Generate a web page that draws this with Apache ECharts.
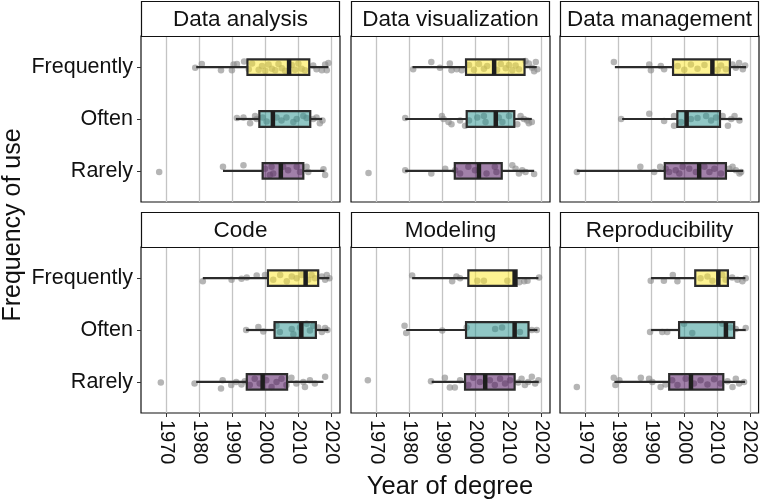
<!DOCTYPE html>
<html>
<head>
<meta charset="utf-8">
<script src="https://cdn.jsdelivr.net/npm/echarts@6/dist/echarts.min.js"></script>
<style>html,body{margin:0;padding:0;background:#fff;}#c{width:760px;height:500px;}</style>
</head>
<body>
<div id="c"></div>
<script>
const categories = ['Frequently', 'Often', 'Rarely'];
const panelTitles = ['Data analysis', 'Data visualization', 'Data management', 'Code', 'Modeling', 'Reproducibility'];
const xTicks = [1970, 1980, 1990, 2000, 2010, 2020];

// box stats per category: [whiskerLow, Q1, median, Q3, whiskerHigh]
const analysisBoxes = [[1979.1,1994.6,2007.2,2013.3,2019.1],[1991.1,1998.2,2002.3,2013.6,2017.2],[1987.2,1999.2,2004.7,2011.5,2017.9]];
const visualizationBoxes = [[1981.0,1997.2,2005.7,2014.9,2018.6],[1978.8,1997.4,2006.2,2011.8,2017.1],[1978.8,1993.8,2001.1,2008.0,2017.8]];
const managementBoxes = [[1979.0,1996.6,2008.5,2013.8,2018.7],[1981.2,1997.9,2000.7,2010.8,2017.5],[1967.5,1994.1,2004.5,2012.6,2017.8]];
const codeBoxes = [[1981.1,2000.8,2012.2,2016.0,2019.4],[1994.2,2002.8,2010.9,2015.3,2019.1],[1979.1,1994.4,1999.2,2006.6,2017.6]];
const modelingBoxes = [[1980.9,1997.9,2011.9,2012.5,2019.1],[1979.1,1997.2,2011.9,2016.1,2018.8],[1986.8,1996.9,2003.0,2011.9,2019.2]];
const reproBoxes = [[1990.0,2003.4,2010.4,2013.3,2018.6],[1990.0,1998.5,2012.7,2015.2,2018.7],[1978.9,1995.5,2002.1,2011.9,2018.5]];

// jittered points per category: [year, vertical jitter]
const analysisPoints = [
  [[1978.8,0.01],[1980.8,-0.06],[1986.6,0.06],[1989.9,0.06],[1990.4,-0.05],[1991.4,-0.06],[1993.6,-0.11],[1995,0.04],[1996,-0.07],[1998,0.05],[1999,-0.02],[2000,0.07],[2001,-0.05],[2002,0.03],[2003,0.06],[2004,-0.06],[2005,0.02],[2006,0.07],[2008,-0.04],[2009,0.05],[2010,-0.07],[2011,0.03],[2012,0.06],[2014.5,-0.03],[2015.5,0.04],[2017.1,0.06],[2018.1,-0.05],[2018.6,0.06],[2019.1,-0.08]],
  [[1991.4,-0.02],[1993.4,-0.03],[1995.4,0.08],[1996.9,-0.06],[1997.4,0],[1999.2,-0.03],[2000.4,0.05],[2003.4,-0.03],[2004.9,0.03],[2006.4,-0.03],[2008.5,0.06],[2009.5,0],[2011.5,-0.06],[2012.5,-0.02],[2014.5,0],[2015.5,-0.03],[2016.5,0.08],[2017.3,0.03]],
  [[1967.9,0.02],[1987.2,-0.08],[1993.4,-0.11],[1999.9,-0.04],[2001.9,-0.08],[2002.4,0.05],[2001.4,0.08],[2005.4,-0.08],[2006.9,-0.01],[2009.5,-0.08],[2010.5,0.02],[2012.5,-0.08],[2013.0,0.02],[2017.6,-0.03],[2018.1,0.08]]
];
const visualizationPoints = [
  [[1981.2,0.04],[1986.7,-0.10],[1989.3,0.01],[1992.3,-0.07],[1992.8,0.06],[1994.4,0.04],[1995.9,0.06],[1998.1,-0.04],[1999.6,0.05],[2001.1,-0.06],[2002.6,0.03],[2003.6,-0.02],[2006.6,0.05],[2007.7,-0.06],[2009.2,0.02],[2010.2,-0.04],[2011.2,0.06],[2012.2,-0.03],[2013.2,0.04],[2015.2,-0.12],[2016.2,-0.07],[2017.2,0.01],[2017.8,0.08],[2018.3,-0.10],[2018.8,0.04]],
  [[1978.8,-0.02],[1989.9,-0.06],[1990.4,0],[1991.9,0.06],[1992.8,0.10],[1995.4,0.03],[1996.9,0.13],[1998.1,0.03],[2000.6,-0.03],[2002.6,-0.06],[2003.1,0.06],[2007.1,-0.03],[2008.2,0.06],[2010.2,-0.06],[2012.7,0.10],[2013.7,-0.06],[2014.7,0],[2015.7,0.03],[2016.2,0.08],[2017.1,0.06]],
  [[1967.7,0.04],[1978.8,-0.01],[1986.7,0.05],[1990.9,-0.04],[1993.9,-0.01],[1995.4,0.05],[1997.9,-0.08],[1999.9,-0.01],[2003.4,0.05],[2005.9,-0.08],[2006.4,0.02],[2011.2,-0.11],[2012.2,-0.04],[2013.2,0.05],[2014.2,-0.01],[2015.2,0.02],[2017.8,0.06]]
];
const managementPoints = [
  [[1978.7,-0.10],[1989.4,-0.05],[1989.9,0.06],[1992.9,-0.02],[1993.9,0.04],[1998.0,-0.02],[2000.0,0.05],[2002.0,-0.05],[2004.0,0.03],[2006.1,-0.04],[2010.1,0.05],[2011.1,-0.03],[2012.6,0.04],[2014.6,-0.05],[2015.6,0.01],[2016.6,-0.08],[2017.7,0.04],[2018.4,-0.03]],
  [[1980.9,0],[1989.4,-0.10],[1993.9,0.04],[1996.9,-0.06],[1996.9,0.13],[1999.0,0.06],[2002.0,0],[2004.0,-0.02],[2006.6,-0.06],[2008.1,0.03],[2009.6,-0.03],[2011.6,-0.06],[2013.2,0.13],[2014.2,0],[2015.2,-0.06],[2016.7,0.03]],
  [[1967.5,0.02],[1986.7,-0.08],[1990.9,0.02],[1992.7,-0.08],[1994.4,-0.04],[1995.4,0.02],[1997.4,-0.01],[1998.5,0.05],[1999.5,-0.08],[2001.5,-0.04],[2003.5,0.02],[2006.1,-0.08],[2007.6,0.02],[2009.1,-0.04],[2011.1,0.05],[2013.6,-0.04],[2014.6,-0.08],[2015.6,-0.01],[2016.7,0.05],[2017.2,0.02]]
];
const codePoints = [
  [[1981.1,0.06],[1989.8,0.03],[1992.8,0.01],[1994.4,-0.01],[1997.4,-0.05],[1999.9,-0.06],[2002.4,0.03],[2004.5,-0.06],[2006.5,0.06],[2008.0,-0.03],[2009.5,0],[2011.0,-0.06],[2013.0,0.03],[2014.0,-0.06],[2015.0,0],[2017.1,-0.03],[2018.1,0.03],[2018.6,-0.06],[2019.4,0]],
  [[1994.2,0],[1997.9,-0.06],[1999.4,0.03],[2003.4,-0.08],[2004.4,0.04],[2008.0,-0.02],[2008.5,0.08],[2010.5,-0.05],[2012.5,-0.12],[2013.5,0.01],[2014.5,-0.08],[2016.0,-0.05],[2017.1,0.04],[2018.1,-0.04],[2018.8,0]],
  [[1968.4,0.01],[1978.6,0.03],[1986.6,0.13],[1987.1,-0.03],[1989.7,0.06],[1991.2,0],[1992.8,0.05],[1993.8,-0.01],[1995.3,0.06],[1996.8,-0.06],[1998.3,0.03],[2000.3,-0.03],[2001.9,0.10],[2003.4,0],[2004.9,-0.06],[2006.4,0.06],[2007.9,-0.08],[2009.4,0.03],[2011.5,0],[2012.0,0.10],[2013.5,-0.03],[2015.0,0.03],[2018.1,-0.10]]
];
const modelingPoints = [
  [[1980.9,-0.05],[1993.0,0.06],[1994.3,-0.03],[1995.4,0],[2000.6,0.05],[2002.6,0.05],[2009.7,0.05],[2013.3,0.08],[2014.8,0.06],[2015.8,0.05],[2019.3,-0.01]],
  [[1978.6,-0.08],[1979.1,0.06],[1990.0,0.01],[1997.4,-0.05],[2006.0,-0.02],[2008.1,-0.05],[2013.5,0.04],[2017.1,0],[2018.6,0]],
  [[1967.5,-0.03],[1986.6,-0.01],[1990.8,-0.08],[1992.3,0.11],[1993.8,0.11],[1995.4,-0.03],[1997.9,0.06],[1999.4,-0.08],[2001.4,0],[2004.4,-0.03],[2005.9,0.06],[2007.5,-0.06],[2009.0,0.03],[2010.5,-0.03],[2013.0,0.01],[2014.0,-0.06],[2015.0,0.06],[2016.0,0],[2017.1,-0.10],[2018.1,0.03],[2019.1,-0.03]]
];
const reproPoints = [
  [[1989.9,0.05],[1993.9,0.05],[1996.6,-0.06],[1998.0,0.06],[2005.0,0],[2007.1,-0.03],[2008.6,0.05],[2011.6,-0.06],[2012.6,0.03],[2014.6,-0.01],[2016.2,0.03],[2017.7,0.06],[2018.7,0]],
  [[1989.7,0.04],[1993.4,0.04],[1994.9,0.04],[2000.0,-0.12],[2002.5,0.06],[2011.6,-0.12],[2014.1,-0.05],[2015.7,-0.02],[2018.7,-0.04]],
  [[1967.5,0.10],[1978.7,-0.08],[1979.2,0.06],[1980.4,-0.03],[1986.9,-0.08],[1989.4,-0.06],[1990.4,0],[1992.9,0.10],[1994.4,0.05],[1996.4,-0.03],[1998.0,0.06],[2000.5,-0.06],[2003.0,0.03],[2005.0,-0.03],[2007.1,0.05],[2009.1,-0.05],[2011.1,0.03],[2013.2,-0.01],[2014.7,0.10],[2015.7,-0.06],[2016.7,0.03],[2018.2,0]]
];

const allBoxes = [analysisBoxes, visualizationBoxes, managementBoxes, codeBoxes, modelingBoxes, reproBoxes];
const allPoints = [analysisPoints, visualizationPoints, managementPoints, codePoints, modelingPoints, reproPoints];

const fills = ['rgba(253,231,37,0.5)', 'rgba(33,144,140,0.5)', 'rgba(68,1,84,0.5)'];
const FONT = "'Liberation Sans', Arial, sans-serif";
const colLeft = [141, 351, 560];
const rowTop = [36, 247];
const PW = 199, PH = 166, STRIP = 35;

function renderBox(params, api) {
  const cat = api.value(0);
  const lo = api.coord([api.value(1), cat]);
  const q1 = api.coord([api.value(2), cat]);
  const md = api.coord([api.value(3), cat]);
  const q3 = api.coord([api.value(4), cat]);
  const hi = api.coord([api.value(5), cat]);
  const h = api.size([0, 0.3])[1];
  const stroke = '#2b2b2b';
  return {
    type: 'group',
    children: [
      { type: 'line', shape: { x1: lo[0], y1: lo[1], x2: q1[0], y2: q1[1] }, style: { stroke: stroke, lineWidth: 2.2 } },
      { type: 'line', shape: { x1: q3[0], y1: q3[1], x2: hi[0], y2: hi[1] }, style: { stroke: stroke, lineWidth: 2.2 } },
      { type: 'rect', shape: { x: q1[0], y: q1[1] - h / 2, width: q3[0] - q1[0], height: h }, style: { fill: fills[cat], stroke: stroke, lineWidth: 2.2 } },
      { type: 'line', shape: { x1: md[0], y1: md[1] - h / 2, x2: md[0], y2: md[1] + h / 2 }, style: { stroke: '#1e1e1e', lineWidth: 4.5 } }
    ]
  };
}

const grids = [], xAxes = [], yAxes = [], series = [], graphics = [];
for (let i = 0; i < 6; i++) {
  const r = Math.floor(i / 3), c = i % 3;
  const bottomRow = r === 1, leftCol = c === 0;
  grids.push({ left: colLeft[c], top: rowTop[r], width: PW, height: PH, show: true, backgroundColor: '#fff', borderColor: '#111', borderWidth: 1.2, containLabel: false });
  xAxes.push({
    type: 'value', gridIndex: i, min: 1962.4, max: 2022.6, position: 'bottom',
    axisLine: { show: false, onZero: false },
    axisTick: { show: bottomRow, customValues: xTicks, length: 4, lineStyle: { color: '#333', width: 1 } },
    axisLabel: { show: bottomRow, customValues: xTicks, formatter: v => String(v), rotate: -90, fontSize: 20, color: '#111', fontFamily: FONT, margin: 7 },
    splitLine: { show: true, lineStyle: { color: '#c4c4c4', width: 1.3 } }
  });
  yAxes.push({
    type: 'value', gridIndex: i, min: -0.6, max: 2.6, inverse: true, position: 'left',
    axisLine: { show: false, onZero: false },
    axisTick: { show: leftCol, customValues: [0, 1, 2], length: 4, lineStyle: { color: '#333', width: 1 } },
    axisLabel: { show: leftCol, customValues: [0, 1, 2], formatter: v => categories[v], fontSize: 21.5, color: '#111', fontFamily: FONT, margin: 8 },
    splitLine: { show: false }
  });
  const pts = [];
  allPoints[i].forEach((arr, k) => arr.forEach(p => pts.push([p[0], k + p[1]])));
  series.push({
    type: 'scatter', xAxisIndex: i, yAxisIndex: i, data: pts, symbolSize: 6.5, z: 2,
    itemStyle: { color: 'rgba(140,140,140,0.8)' }, silent: true
  });
  series.push({
    type: 'custom', xAxisIndex: i, yAxisIndex: i, z: 3, silent: true,
    renderItem: renderBox,
    encode: { x: [1, 2, 3, 4, 5], y: 0 },
    data: allBoxes[i].map((b, k) => [k].concat(b))
  });
  graphics.push({
    type: 'rect', shape: { x: colLeft[c] + 0.5, y: rowTop[r] - STRIP + 0.5, width: PW - 1, height: STRIP },
    style: { fill: '#fff', stroke: '#111', lineWidth: 1.2 }, z: 10
  });
  graphics.push({
    type: 'text', x: colLeft[c] + PW / 2, y: rowTop[r] - STRIP / 2 + 1,
    style: { text: panelTitles[i], fontSize: 22.5, fontFamily: FONT, fill: '#111', align: 'center', verticalAlign: 'middle' }, z: 11
  });
}
graphics.push({
  type: 'text', x: 450, y: 487,
  style: { text: 'Year of degree', fontSize: 25.5, fontFamily: FONT, fill: '#111', align: 'center', verticalAlign: 'middle' }, z: 11
});
graphics.push({
  type: 'text', x: 13, y: 225, rotation: Math.PI / 2,
  style: { text: 'Frequency of use', fontSize: 25, fontFamily: FONT, fill: '#111', align: 'center', verticalAlign: 'middle' }, z: 11
});

const chart = echarts.init(document.getElementById('c'), null, { renderer: 'canvas' });
chart.setOption({
  animation: false,
  backgroundColor: '#fff',
  grid: grids, xAxis: xAxes, yAxis: yAxes, series: series, graphic: graphics
});
</script>
</body>
</html>
